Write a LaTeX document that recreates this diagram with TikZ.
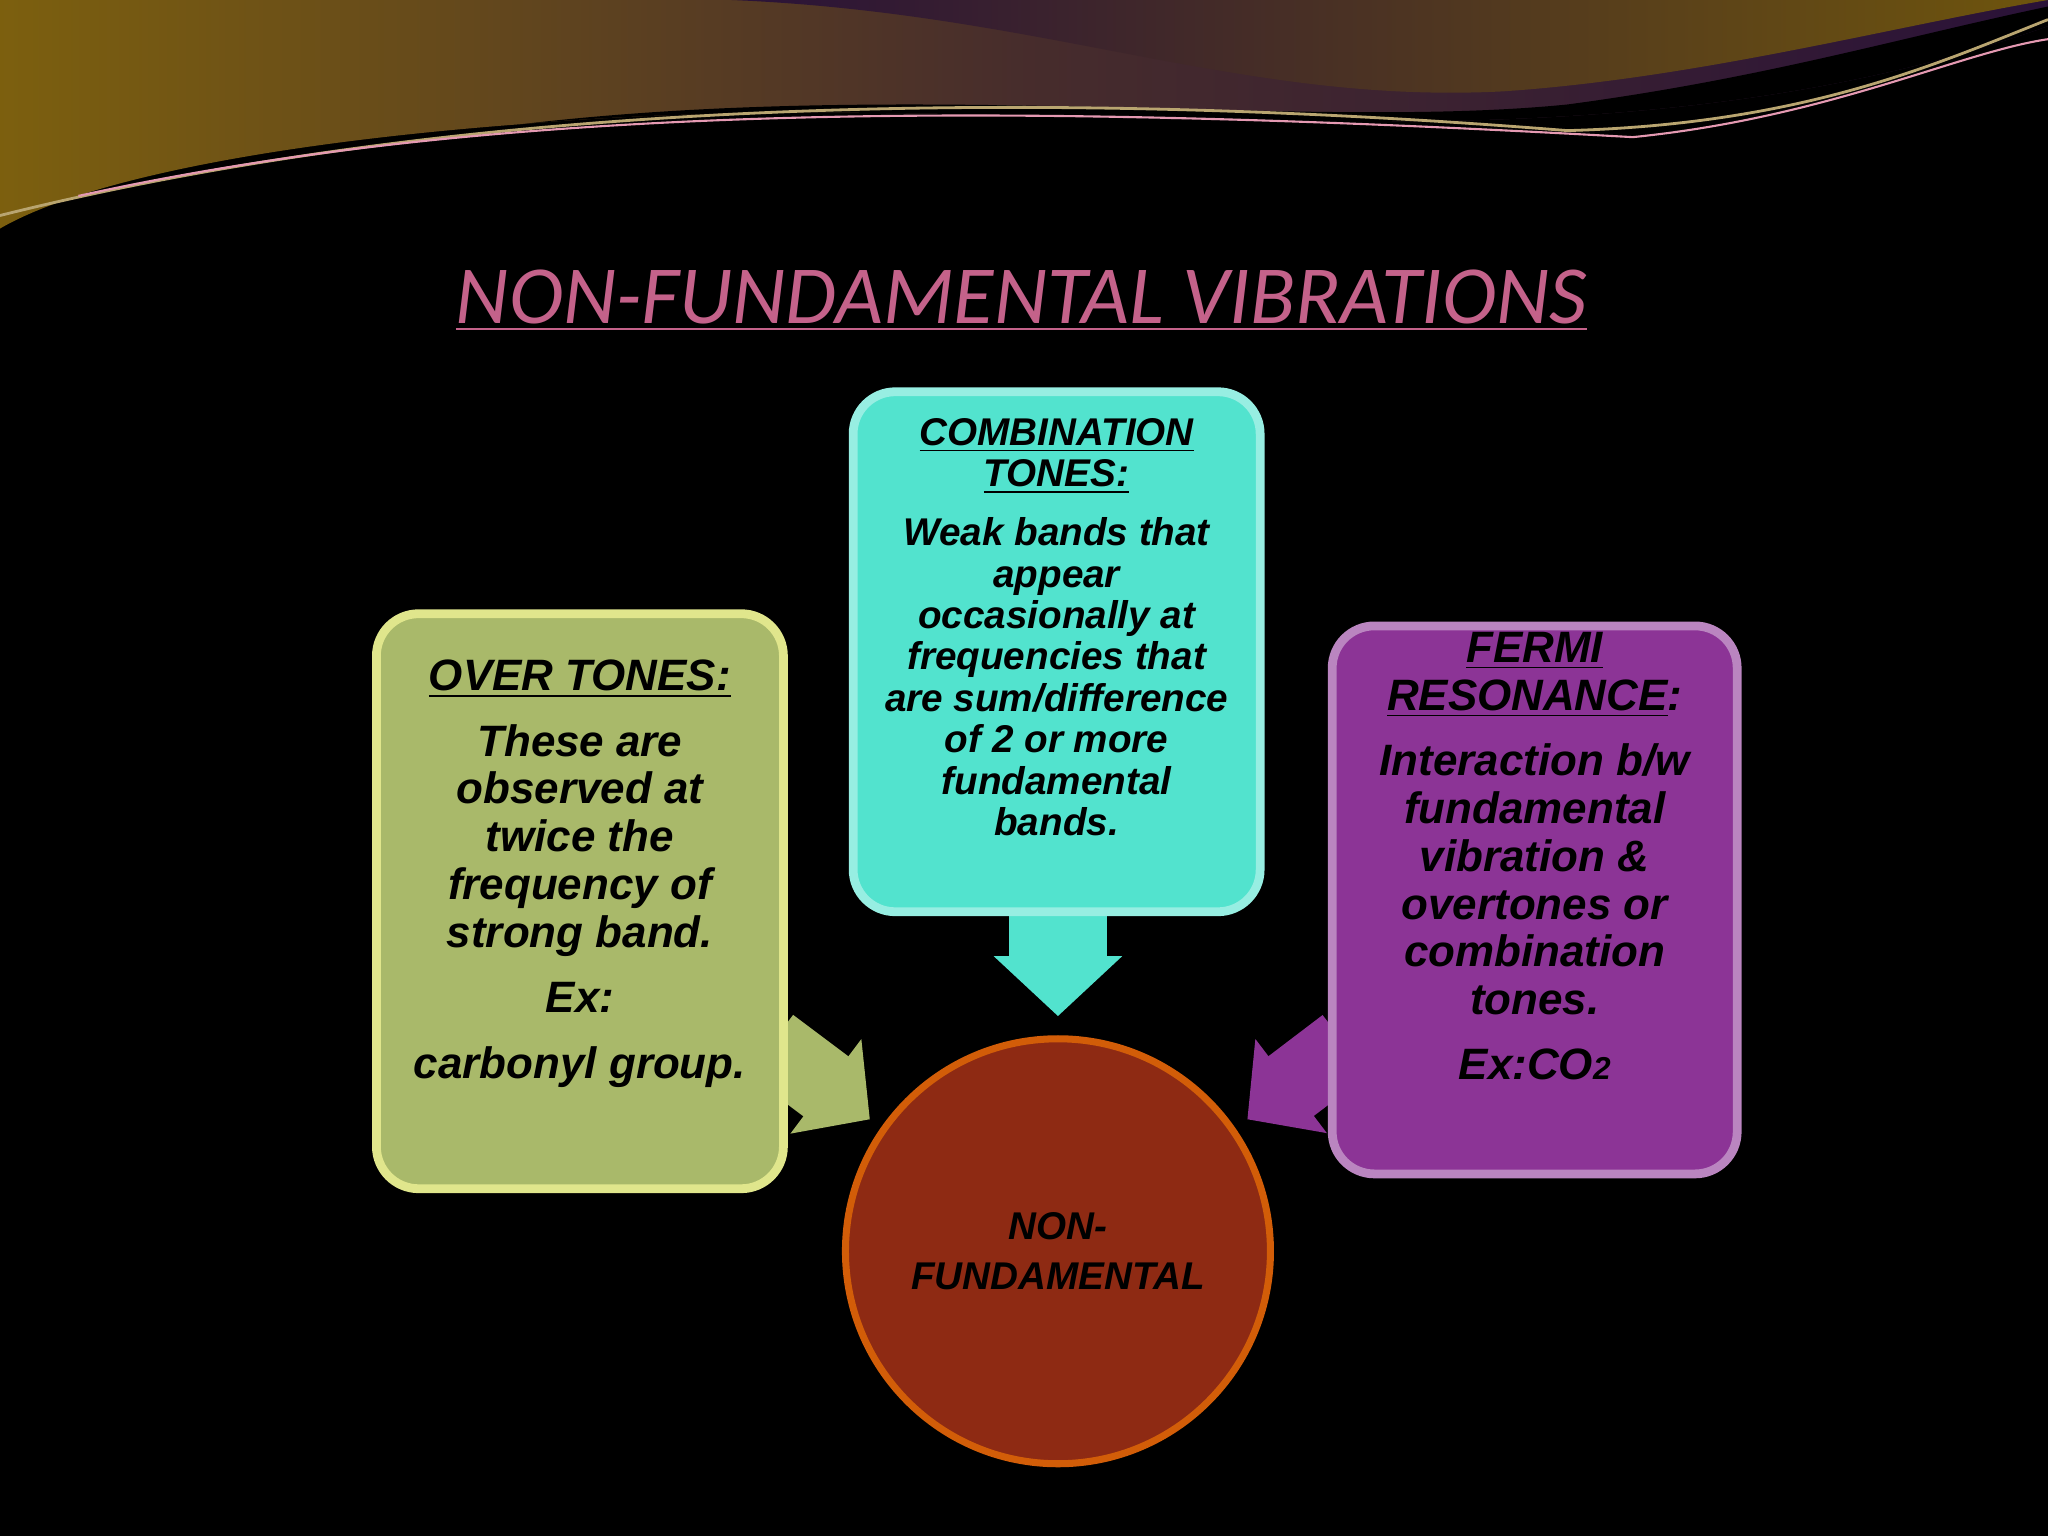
\documentclass[tikz,border=0pt]{standalone}
\usepackage{fontspec}
\setmainfont{Liberation Sans}
\newfontfamily\titlefont{Carlito}
\usetikzlibrary{arrows.meta}
\definecolor{olive}{HTML}{A9B96A}
\definecolor{cyanb}{HTML}{52E3CE}
\definecolor{purp}{HTML}{8C3496}
\definecolor{rust}{HTML}{8E2A13}
\definecolor{gold}{HTML}{8A6A10}
\definecolor{dpurp}{HTML}{2A1238}
\tikzset{
 box/.style={rounded corners=12pt, line width=2.5pt, inner sep=0pt},
 txt/.style={align=center, text=black, anchor=north, inner sep=0pt},
}
\begin{document}
\begin{tikzpicture}[x=0.01306cm,y=-0.01306cm]
\fill[black] (0,0) rectangle (1568,1176);
\useasboundingbox (0,0) rectangle (1568,1176);
% top wave
\shade[left color=gold!90!black, right color=dpurp, middle color=dpurp!70!gold] (0,0) -- (1568,0) -- (1568,20) .. controls (1200,150) and (800,60) .. (400,95) .. controls (200,110) and (60,140) .. (0,175) -- cycle;
\fill[black] (1568,20) .. controls (1200,150) and (800,60) .. (400,95) .. controls (700,60) and (1000,100) .. (1200,80) .. controls (1350,60) and (1450,30) .. (1568,5) -- cycle;
\shade[left color=dpurp, right color=gold!80!black] (560,0) .. controls (800,10) and (950,80) .. (1150,70) .. controls (1300,60) and (1450,20) .. (1568,0) -- cycle;
\draw[gold!60!white, line width=0.8pt] (0,165) .. controls (300,90) and (700,60) .. (1200,100) .. controls (1380,95) and (1480,50) .. (1568,15);
\draw[purple!40!white, line width=0.6pt] (60,150) .. controls (400,75) and (800,80) .. (1250,105) .. controls (1400,90) and (1500,40) .. (1568,30);
% title
\node (title) at (782,230) {\titlefont\itshape\fontsize{23.5}{28}\selectfont\color[HTML]{C4628A}\underline{NON-FUNDAMENTAL VIBRATIONS}};
% arrows (behind boxes)
\coordinate (ctb) at (810,690);
\coordinate (ntop) at (810,778);
\draw[cyanb, line width=0.98cm, -{Triangle[width=1.25cm, length=0.6cm]}] (ctb) -- (ntop);
\coordinate (ota) at (590,800);
\coordinate (otb) at (666,857);
\draw[olive, line width=0.75cm, -{Triangle[width=1.15cm, length=0.55cm]}] (ota) -- (otb);
\coordinate (fra) at (1030,800);
\coordinate (frb) at (955,857);
\draw[purp, line width=0.75cm, -{Triangle[width=1.15cm, length=0.55cm]}] (fra) -- (frb);
% boxes
\node[box, fill=olive, draw=olive!60!yellow!60!white, minimum width=4.07cm, minimum height=5.75cm] (ot) at (444,690) {};
\node[box, fill=cyanb, draw=cyanb!60!white, minimum width=4.07cm, minimum height=5.2cm] (ct) at (809,499) {};
\node[box, fill=purp, draw=purp!60!white, minimum width=4.05cm, minimum height=5.48cm] (fr) at (1175,689) {};
\node[txt, font=\bfseries\itshape\fontsize{12.5}{13.6}\selectfont] (ott) at ([yshift=-0.5cm]ot.north)
 {\underline{OVER TONES:}\\[5pt] These are\\ observed at\\ twice the\\ frequency of\\ strong band.\\[5pt] Ex:\\[5pt] carbonyl group.};
\node[txt, font=\bfseries\itshape\fontsize{11}{11.8}\selectfont] (ctt) at ([yshift=-0.3cm]ct.north)
 {\underline{COMBINATION}\\ \underline{TONES:}\\[5pt] Weak bands that\\ appear\\ occasionally at\\ frequencies that\\ are sum/difference\\ of 2 or more\\ fundamental\\ bands.};
\node[txt, font=\bfseries\itshape\fontsize{12.5}{13.6}\selectfont] (frt) at ([yshift=-0.1cm]fr.north)
 {\underline{FERMI}\\ \underline{RESONANCE}:\\[5pt] Interaction b/w\\ fundamental\\ vibration \&\\ overtones or\\ combination\\ tones.\\[5pt] Ex:CO{\small 2}};
\node[circle, fill=rust, draw=orange!60!rust, line width=2pt, minimum size=4.25cm, align=center, font=\bfseries\itshape\fontsize{11}{14.2}\selectfont] (nf) at (810,958) {NON-\\FUNDAMENTAL};
\end{tikzpicture}
\end{document}
